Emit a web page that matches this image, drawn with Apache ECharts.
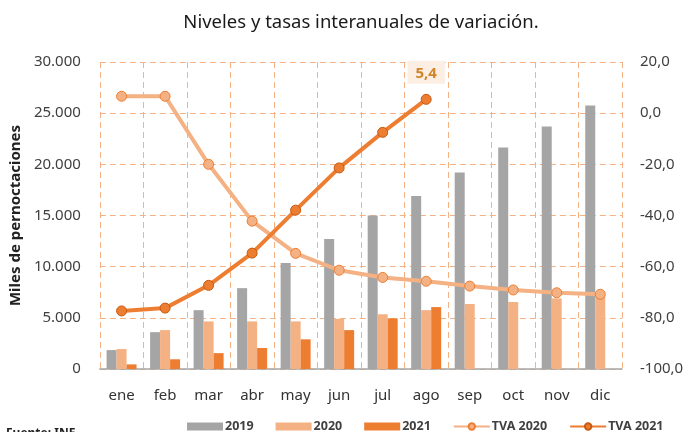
<!DOCTYPE html>
<html lang="es">
<head>
    <meta charset="UTF-8">
    <title>Pernoctaciones</title>
    <script src="https://cdn.jsdelivr.net/npm/echarts@6/dist/echarts.min.js" type="text/javascript"></script>
    <style>
        body { margin: 0; background: #fff; }
    </style>
</head>
<body>
<div id="main" style="width: 692px; height: 432px;"></div>
<script>
    var meses = ['ene', 'feb', 'mar', 'abr', 'may', 'jun', 'jul', 'ago', 'sep', 'oct', 'nov', 'dic'];
    var v2019 = [1850, 3600, 5750, 7900, 10350, 12700, 15000, 16900, 19200, 21650, 23700, 25750];
    var v2020 = [1950, 3800, 4650, 4650, 4650, 4900, 5350, 5750, 6350, 6550, 6900, 7250];
    var v2021 = [450, 950, 1550, 2050, 2900, 3800, 4950, 6050];
    var tva2020 = [6.6, 6.6, -20.0, -42.2, -54.8, -61.4, -64.2, -65.7, -67.6, -69.1, -70.2, -70.8];
    var tva2021 = [-77.3, -76.2, -67.3, -54.7, -37.9, -21.4, -7.5, 5.4];

    var gris = '#A5A5A5', claro = '#F4B183', naranja = '#ED7D31';
    var fuente = '"Noto Sans", "Open Sans", sans-serif';

    function miles(v) {
        return String(v).replace(/\B(?=(\d{3})+(?!\d))/g, '.');
    }

    // solo se etiqueta el último valor de TVA 2021
    var tva2021Datos = tva2021.map(function (v, i) {
        if (i < tva2021.length - 1) return v;
        return {
            value: v,
            label: {
                show: true,
                position: 'top',
                distance: 10,
                fontFamily: fuente,
                fontSize: 15,
                fontWeight: 'bold',
                color: '#CF8528',
                backgroundColor: '#FDEEE3',
                padding: [5, 8, 3, 8],
                formatter: function (p) { return String(p.value).replace('.', ','); }
            }
        };
    });

    var myChart = echarts.init(document.getElementById('main'));

    var option = {
        animation: false,
        textStyle: { fontFamily: fuente },
        title: {
            text: 'Niveles y tasas interanuales de variación.',
            left: 356,
            textAlign: 'center',
            top: 8,
            textStyle: { fontFamily: fuente, fontSize: 18.5, fontWeight: 'normal', color: '#1a1a1a' }
        },
        grid: { left: 99, right: 70, top: 62, bottom: 63 },
        legend: {
            top: 415,
            left: 182,
            itemGap: 22,
            itemWidth: 36,
            itemHeight: 8,
            textStyle: { fontFamily: fuente, fontSize: 12.5, fontWeight: 'bold', color: '#404040', padding: [0, 0, 0, -3] },
            data: [
                { name: '2019', icon: 'rect' },
                { name: '2020', icon: 'rect' },
                { name: '2021', icon: 'rect' },
                { name: 'TVA 2020' },
                { name: 'TVA 2021' }
            ]
        },
        xAxis: {
            type: 'category',
            data: meses,
            axisTick: { show: false },
            axisLine: { lineStyle: { color: '#A6A6A6', width: 1.5 } },
            axisLabel: { fontSize: 15, color: '#333', margin: 19 },
            splitLine: { show: true, lineStyle: { color: claro, type: [6, 4] } }
        },
        yAxis: [
            {
                type: 'value',
                min: 0, max: 30000, interval: 5000,
                name: 'Miles de pernoctaciones',
                nameLocation: 'middle',
                nameGap: 74,
                nameTextStyle: { fontFamily: fuente, fontSize: 15, fontWeight: 'bold', color: '#222' },
                axisLabel: { fontSize: 15, color: '#404040', margin: 19, formatter: miles },
                axisLine: { show: false },
                axisTick: { show: false },
                splitLine: { lineStyle: { color: claro, type: [6, 4] } }
            },
            {
                type: 'value',
                min: -100, max: 20, interval: 20,
                axisLabel: {
                    fontSize: 15, color: '#404040', margin: 18,
                    formatter: function (v) { return v.toFixed(1).replace('.', ','); }
                },
                axisLine: { show: false },
                axisTick: { show: false },
                splitLine: { show: false }
            }
        ],
        series: [
            { name: '2019', type: 'bar', data: v2019, barWidth: 10, barGap: '0%', itemStyle: { color: gris } },
            { name: '2020', type: 'bar', data: v2020, barWidth: 10, barGap: '0%', itemStyle: { color: claro } },
            { name: '2021', type: 'bar', data: v2021, barWidth: 10, barGap: '0%', itemStyle: { color: naranja } },
            {
                name: 'TVA 2020', type: 'line', yAxisIndex: 1, data: tva2020,
                symbol: 'circle', symbolSize: 10,
                lineStyle: { color: claro, width: 4 },
                itemStyle: { color: claro, borderColor: naranja, borderWidth: 1 }
            },
            {
                name: 'TVA 2021', type: 'line', yAxisIndex: 1, data: tva2021Datos,
                symbol: 'circle', symbolSize: 10,
                lineStyle: { color: naranja, width: 4 },
                itemStyle: { color: naranja, borderColor: '#C55A11', borderWidth: 1 }
            }
        ],
        graphic: [
            {
                type: 'text', left: 6, top: 428,
                style: { text: 'Fuente: INE', fontFamily: fuente, fontSize: 12, fontWeight: 'bold', fill: '#222' }
            }
        ]
    };
    myChart.setOption(option);
</script>
</body>
</html>
